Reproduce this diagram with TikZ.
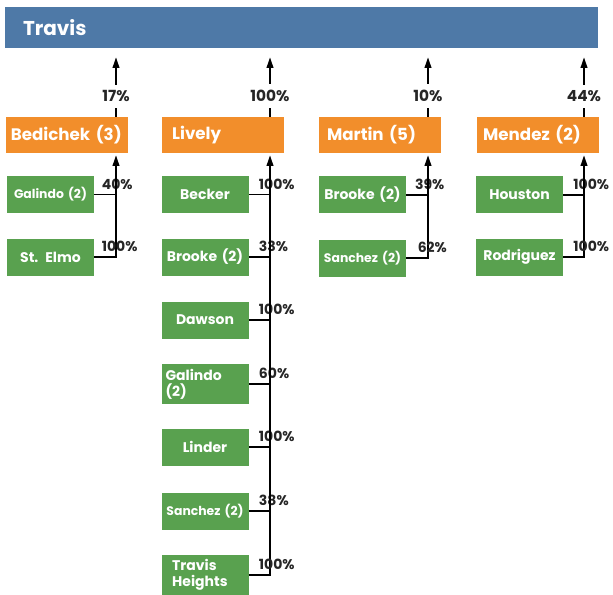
\documentclass[tikz,border=0pt]{standalone}
\usepackage{fontspec}
\setmainfont{Poppins}
\usetikzlibrary{arrows.meta}
\definecolor{travisblue}{HTML}{4E79A7}
\definecolor{schoolorange}{HTML}{F28E2B}
\definecolor{feedgreen}{HTML}{59A14F}
\definecolor{pcttext}{HTML}{262626}

\begin{document}
\begin{tikzpicture}[x=0.75pt, y=-0.75pt,
    district/.style={fill=travisblue, text=white, font=\bfseries\fontsize{15}{17}\selectfont,
        minimum width=444.75pt, minimum height=30.75pt, inner xsep=13.5pt, text width=417.75pt, align=left},
    school/.style={fill=schoolorange, text=white, font=\bfseries\fontsize{12.5}{14}\selectfont,
        minimum width=91.5pt, minimum height=27pt, inner xsep=4pt, text width=83.5pt, align=left},
    feeder/.style={fill=feedgreen, text=white, font=\bfseries\fontsize{10.5}{12}\selectfont,
        minimum width=65.25pt, minimum height=27.75pt, inner xsep=3pt, text width=59.25pt, align=center},
    small/.style={font=\bfseries\fontsize{9.3}{11}\selectfont},
    pct/.style={text=pcttext, font=\bfseries\fontsize{10.5}{12}\selectfont, inner sep=1pt, anchor=south west, pos=0, yshift=2pt},
    toppct/.style={text=pcttext, fill=white, inner xsep=1pt, inner ysep=4.5pt, font=\bfseries\fontsize{11.5}{13}\selectfont},
    link/.style={line width=1.3pt},
    up/.style={link, -{Triangle[length=8pt, width=5pt]}}]
    \useasboundingbox (0,0) rectangle (613,595);

    \node[district] (travis) at (301.5,27.5) {Travis};

    \node[school] (bedichek) at (66.5,135) {Bedichek (3)};
    \node[school] (lively) at (222.5,135) {\hspace{4pt}Lively};
    \node[school] (martin) at (380,135) {\hspace{2pt}Martin (5)};
    \node[school] (mendez) at (537.5,135) {\hspace{1pt}Mendez (2)};

    \coordinate (bedline) at (116,0);
    \coordinate (livline) at (270,0);
    \coordinate (marline) at (428,0);
    \coordinate (menline) at (584,0);

    % feeders of Bedichek
    \node[feeder, small] (galindoB) at (50.5,194.5) {Galindo (2)};
    \node[feeder] (stelmoB) at (50.5,257) {St. Elmo};

    % feeders of Lively
    \node[feeder] (beckerL) at (205,194.5) {Becker};
    \node[feeder] (brookeL) at (205,257) {Brooke (2)};
    \node[feeder] (dawsonL) at (205,320) {Dawson};
    \node[feeder, align=left] (galindoL) at (205,384) {Galindo\\(2)};
    \node[feeder] (linderL) at (205,447) {Linder};
    \node[feeder, small] (sanchezL) at (205,511) {Sanchez (2)};
    \node[feeder, align=left, inner xsep=8pt, text width=49.25pt] (heightsL) at (205,575) {Travis\\Heights};

    % feeders of Martin
    \node[feeder] (brookeM) at (362.5,195) {Brooke (2)};
    \node[feeder, small] (sanchezM) at (362.5,258) {Sanchez (2)};

    % feeders of Mendez
    \node[feeder] (houstonM) at (519.5,195) {Houston};
    \node[feeder] (rodriguezM) at (519.5,257) {Rodriguez};

    % schools to district
    \draw[up, shorten >=6.75pt] (bedichek.north -| bedline) -- node[toppct, pos=0.3] {17\%} (travis.south -| bedline);
    \draw[up, shorten >=6.75pt] (lively.north -| livline) -- node[toppct, pos=0.3] {100\%} (travis.south -| livline);
    \draw[up, shorten >=6.75pt] (martin.north -| marline) -- node[toppct, pos=0.3] {10\%} (travis.south -| marline);
    \draw[up, shorten >=6.75pt] (mendez.north -| menline) -- node[toppct, pos=0.3] {44\%} (travis.south -| menline);

    % feeders to schools
    \draw[link] (galindoB.east) -- node[pct, xshift=4pt] {40\%} (galindoB.east -| bedline);
    \draw[up, shorten >=1.5pt] (stelmoB.east) -- node[pct, xshift=4pt] {100\%} (stelmoB.east -| bedline) -- (bedichek.south -| bedline);

    \draw[link] (beckerL.east) -- node[pct, xshift=6pt] {100\%} (beckerL.east -| livline);
    \draw[link] (brookeL.east) -- node[pct, xshift=6pt] {33\%} (brookeL.east -| livline);
    \draw[link] (dawsonL.east) -- node[pct, xshift=6pt] {100\%} (dawsonL.east -| livline);
    \draw[link] (galindoL.east) -- node[pct, xshift=6pt] {60\%} (galindoL.east -| livline);
    \draw[link] (linderL.east) -- node[pct, xshift=6pt] {100\%} (linderL.east -| livline);
    \draw[link] (sanchezL.east) -- node[pct, xshift=6pt] {38\%} (sanchezL.east -| livline);
    \draw[up, shorten >=1.5pt] (heightsL.east) -- node[pct, xshift=6pt] {100\%} (heightsL.east -| livline) -- (lively.south -| livline);

    \draw[link] (brookeM.east) -- node[pct, xshift=5pt] {39\%} (brookeM.east -| marline);
    \draw[up, shorten >=1.5pt] (sanchezM.east) -- node[pct, xshift=7pt] {62\%} (sanchezM.east -| marline) -- (martin.south -| marline);

    \draw[link] (houstonM.east) -- node[pct, xshift=6pt] {100\%} (houstonM.east -| menline);
    \draw[up, shorten >=1.5pt] (rodriguezM.east) -- node[pct, xshift=6pt] {100\%} (rodriguezM.east -| menline) -- (mendez.south -| menline);
\end{tikzpicture}
\end{document}
